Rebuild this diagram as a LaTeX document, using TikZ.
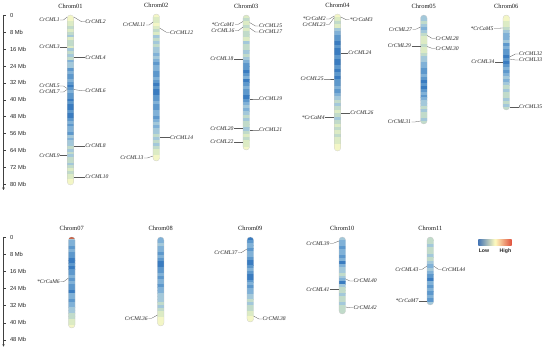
\documentclass[tikz,border=0pt]{standalone}
\usepackage{fontspec}
\setmainfont{Liberation Serif}
\newfontfamily\axfont{Liberation Sans}
\usetikzlibrary{arrows.meta}
\definecolor{b0}{HTML}{F3F6C6}
\definecolor{b1}{HTML}{DCEBC4}
\definecolor{b2}{HTML}{C1DBCA}
\definecolor{b3}{HTML}{A3C8DA}
\definecolor{b4}{HTML}{80B1D7}
\definecolor{b5}{HTML}{5D98CC}
\definecolor{b6}{HTML}{3A7CC0}
\definecolor{b7}{HTML}{C8684E}
\definecolor{lgblue}{HTML}{4575B4}
\definecolor{lgyel}{HTML}{FFFCC0}
\definecolor{lgred}{HTML}{E0503C}
\tikzset{
  gl/.style={font=\fontsize{5.6}{6}\selectfont\itshape, inner sep=0.4pt, text=black!85},
  con/.style={draw=black!65, line width=0.3pt},
  clab/.style={font=\fontsize{6.4}{7}\selectfont, inner sep=0pt, text=black!90},
  axl/.style={font=\axfont\fontsize{5.8}{6}\selectfont, anchor=west, inner sep=0pt, text=black!85},
  axln/.style={draw=black!75, line width=0.8pt},
  tickln/.style={draw=black!75, line width=0.5pt},
  leg/.style={font=\axfont\bfseries\fontsize{5.2}{6}\selectfont, inner sep=0pt, text=black!85},
}
\newcommand{\chromo}[6]{%
  \node[clab] (#1) at (#3,{#4-8.7}) {#2};
  \foreach \cc [count=\kk] in {#6} {\xdef\nbands{\kk}}
  \pgfmathsetmacro\chbh{(#5-#4)/\nbands}
  \begin{scope}
    \clip[rounded corners=3.2pt] ({#3-3.3},#4) rectangle ({#3+3.3},#5);
    \foreach \cc [count=\ii] in {#6} {
      \fill[fill=b\cc] ({#3-4},{#4+(\ii-1)*\chbh}) rectangle ({#3+4},{#4+\ii*\chbh+0.25});
    }
  \end{scope}
  \draw[black!22, line width=0.2pt, rounded corners=3.2pt] ({#3-3.3},#4) rectangle ({#3+3.3},#5);
}
\newcommand{\gL}[6]{%
  \coordinate (#1p) at ({#3-3.3},#5);
  \node[gl, anchor=east] (#1) at ({#3-3.3-#6},#4) {#2};
  \draw[con] (#1.east) -- ++(3.2,0) -- (#1p);
}
\newcommand{\gR}[6]{%
  \coordinate (#1p) at ({#3+3.3},#5);
  \node[gl, anchor=west] (#1) at ({#3+3.3+#6},#4) {#2};
  \draw[con] (#1.west) -- ++(-3.2,0) -- (#1p);
}
\begin{document}
\begin{tikzpicture}[x=1pt,y=-1pt]
\useasboundingbox (0,0) rectangle (550,353);
\fill[white] (0,0) rectangle (550,353);

% axes
\draw[axln, -{Stealth[length=2.5pt,width=2.5pt]}] (3.5,14.9) -- (3.5,190);
\foreach \k/\t in {0/0,1/8 Mb,2/16 Mb,3/24 Mb,4/32 Mb,5/40 Mb,6/48 Mb,7/56 Mb,8/64 Mb,9/72 Mb,10/80 Mb}{
  \draw[tickln] (3.5,{15.3+\k*16.9}) -- ++(2.5,0);
  \node[axl] (ta\k) at (9.8,{15.3+\k*16.9}) {\t};
}
\draw[axln, -{Stealth[length=2.5pt,width=2.5pt]}] (3.5,236.9) -- (3.5,346.7);
\foreach \k/\t in {0/0,1/8 Mb,2/16 Mb,3/24 Mb,4/32 Mb,5/40 Mb,6/48 Mb}{
  \draw[tickln] (3.5,{237.3+\k*17.1}) -- ++(2.5,0);
  \node[axl] (tb\k) at (9.8,{237.3+\k*17.1}) {\t};
}

% chromosomes, top row
\chromo{c1}{Chrom01}{70.5}{15}{185}{0,0,1,1,2,1,2,3,1,2,2,1,3,2,3,2,4,3,3,5,4,5,5,4,5,6,5,4,5,5,6,5,6,6,5,6,6,5,4,5,4,4,5,3,4,3,3,2,3,2,3,2,2,3,2,1,2,1,1,0,0}
\chromo{c2}{Chrom02}{156.3}{14}{161}{0,1,1,0,1,2,1,3,2,3,2,3,3,4,3,4,5,4,4,5,5,4,5,6,5,6,6,5,5,4,5,5,4,4,5,4,3,4,3,3,2,3,2,3,2,1,1,0,0}
\chromo{c3}{Chrom03}{246.3}{15}{150}{1,2,1,2,1,2,2,1,3,2,2,3,2,3,4,5,5,6,5,4,6,5,4,5,5,6,5,4,3,4,3,2,3,2,2,3,2,1,2,1,1,0}
\chromo{c4}{Chrom04}{337.5}{14}{151}{0,1,2,1,3,4,5,5,6,5,6,6,5,6,6,5,6,5,6,5,5,4,5,4,3,2,3,2,1,2,3,2,1,2,1,2,1,1,0,0}
\chromo{c5}{Chrom05}{423.8}{15}{124}{3,3,2,3,4,3,2,1,1,1,2,1,1,2,3,3,4,4,5,5,4,5,6,5,6,5,4,5,4,3,3,2,3,2,2,3,2}
\chromo{c6}{Chrom06}{506.3}{15}{110}{0,0,1,1,2,3,4,4,3,5,4,5,5,6,5,6,5,4,5,4,3,4,3,2,3,2,2,3,2,3,2}
% chromosomes, bottom row
\chromo{c7}{Chrom07}{71.7}{237}{328}{3,4,4,5,4,5,5,6,6,5,6,5,5,4,5,4,5,5,6,4,4,5,4,4,3,3,2,2,1,1,0}
\begin{scope}
  \clip[rounded corners=3.2pt] (68.4,237) rectangle (75,328);
  \fill[b7] (68,237) rectangle (76,239.2);
\end{scope}
\chromo{c8}{Chrom08}{160.7}{237}{326}{4,4,3,4,4,5,4,5,6,6,5,5,4,5,4,4,5,4,4,3,3,3,2,3,2,1,1,0,0,0}
\chromo{c9}{Chrom09}{250.3}{237}{322}{6,5,4,4,5,4,4,5,6,6,5,4,5,6,6,5,4,5,4,4,3,3,2,3,2,2,1,1,0,0}
\chromo{c10}{Chrom10}{342.3}{237}{314}{3,4,4,5,4,4,5,4,6,4,3,3,2,3,4,6,3,2,2,3,2,2,3,2,2,2}
\chromo{c11}{Chrom11}{430.3}{237}{305}{2,2,3,2,2,3,2,3,4,3,4,5,6,4,5,4,5,4,5,3}

% genes chrom01
\gL{g1}{CrCML1}{70.5}{20}{17}{7}
\gR{g2}{CrCML2}{70.5}{21.7}{17}{11}
\gL{g3}{CrCML3}{70.5}{46.7}{46.7}{7}
\gR{g4}{CrCML4}{70.5}{57.3}{57.3}{11}
\gL{g5}{CrCML5}{70.5}{86}{88.5}{7}
\gR{g6}{CrCML6}{70.5}{90.7}{89.5}{11}
\gL{g7}{CrCML7}{70.5}{92}{89.5}{7}
\gR{g8}{CrCML8}{70.5}{145.7}{145.7}{11}
\gL{g9}{CrCML9}{70.5}{155.3}{155.3}{7}
\gR{g10}{CrCML10}{70.5}{176.7}{176.7}{11}
% chrom02
\gL{g11}{CrCML11}{156.3}{25}{22}{7}
\gR{g12}{CrCML12}{156.3}{32.3}{28}{10}
\gR{g14}{CrCML14}{156.3}{137.3}{137.3}{10}
\gL{g13}{CrCML13}{156.3}{158}{156}{9}
% chrom03
\gL{gm1}{*CrCaM1}{246.3}{24.3}{21.5}{8}
\gL{g16}{CrCML16}{246.3}{30.7}{27}{8}
\gR{g15}{CrCML15}{246.3}{26}{22.5}{9}
\gR{g17}{CrCML17}{246.3}{32}{28}{9}
\gL{g18}{CrCML18}{246.3}{58.7}{58.7}{9}
\gR{g19}{CrCML19}{246.3}{99}{99}{9}
\gL{g20}{CrCML20}{246.3}{128.3}{128.3}{9}
\gR{g21}{CrCML21}{246.3}{130}{130}{9}
\gL{g22}{CrCML22}{246.3}{141.7}{141.7}{9}
% chrom04
\gL{gm2}{*CrCaM2}{337.5}{19}{16}{8}
\gL{g23}{CrCML23}{337.5}{24.3}{17.5}{8}
\gR{gm3}{*CrCaM3}{337.5}{19.7}{17}{8.5}
\gR{g24}{CrCML24}{337.5}{52.7}{52.7}{7}
\gL{g25}{CrCML25}{337.5}{79}{79}{10}
\gR{g26}{CrCML26}{337.5}{112.7}{112.7}{9}
\gL{gm4}{*CrCaM4}{337.5}{117.3}{117.3}{9}
% chrom05
\gL{g27}{CrCML27}{423.8}{29.3}{27}{8}
\gR{g28}{CrCML28}{423.8}{38.3}{35.5}{8}
\gL{g29}{CrCML29}{423.8}{45.7}{45.7}{9}
\gR{g30}{CrCML30}{423.8}{48.3}{46.5}{8}
\gL{g31}{CrCML31}{423.8}{122}{121}{9}
% chrom06
\gL{gm5}{*CrCaM5}{506.3}{28.3}{28}{9}
\gR{g32}{CrCML32}{506.3}{54}{57}{9}
\gR{g33}{CrCML33}{506.3}{60}{59}{9}
\gL{g34}{CrCML34}{506.3}{61.7}{61.7}{8}
\gR{g35}{CrCML35}{506.3}{106.7}{106.7}{9}
% bottom row
\gL{gm6}{*CrCaM6}{71.7}{281.7}{278}{8}
\gL{g36}{CrCML36}{160.7}{318.3}{315}{9}
\gL{g37}{CrCML37}{250.3}{252.7}{249}{9}
\gR{g38}{CrCML38}{250.3}{319}{316}{8.5}
\gL{g39}{CrCML39}{342.3}{243.3}{241}{9}
\gR{g40}{CrCML40}{342.3}{281}{279}{7.5}
\gL{g41}{CrCML41}{342.3}{289.3}{289.3}{9}
\gR{g42}{CrCML42}{342.3}{307.7}{307}{7.5}
\gL{g43}{CrCML43}{430.3}{269.3}{266}{8}
\gR{g44}{CrCML44}{430.3}{269.3}{266}{8}
\gL{gm7}{*CrCaM7}{430.3}{300.7}{300.7}{8}

% legend
\shade[left color=lgblue, right color=lgred, middle color=lgyel] (478.3,239.3) rectangle (511.7,245.7);
\node[leg] (lo) at (484,250.7) {Low};
\node[leg] (hi) at (505.5,250.7) {High};
\end{tikzpicture}
\end{document}
